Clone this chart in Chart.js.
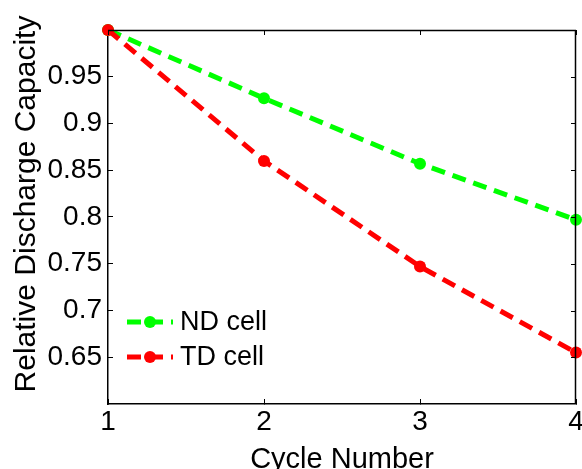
<!DOCTYPE html>
<html>
<head>
<meta charset="utf-8">
<script src="https://cdn.jsdelivr.net/npm/chart.js@4/dist/chart.umd.min.js"></script>
<style>
  html, body { margin: 0; padding: 0; background: #fff; }
  #wrap { width: 582px; height: 469px; position: relative; }
</style>
</head>
<body>
<div id="wrap"><canvas id="c" width="582" height="469"></canvas></div>
<script>
const cycles = ['1', '2', '3', '4'];
const ndCell = [1.0, 0.927, 0.857, 0.797];
const tdCell = [1.0, 0.860, 0.747, 0.655];
const yTickValues = [0.65, 0.7, 0.75, 0.8, 0.85, 0.9, 0.95];
const yTickLabels = ['0.65', '0.7', '0.75', '0.8', '0.85', '0.9', '0.95'];
const seriesNames = ['ND cell', 'TD cell'];
const yTitle = 'Relative Discharge Capacity';
const xTitle = 'Cycle Number';

const FONT = '"Liberation Sans", Arial, Helvetica, sans-serif';
const GREEN = '#00ff00';
const RED = '#ff0000';
const DASH = [14, 8];

const customDraw = {
  id: 'customDraw',
  afterDraw(chart) {
    const ctx = chart.ctx;
    const ca = chart.chartArea;
    const y = chart.scales.y;
    const x = chart.scales.x;
    ctx.save();
    ctx.strokeStyle = '#000';
    ctx.lineWidth = 1.5;
    ctx.beginPath();
    ctx.moveTo(ca.left, ca.top + 0.5);
    ctx.lineTo(ca.right, ca.top + 0.5);
    ctx.moveTo(ca.right - 0.5, ca.top);
    ctx.lineTo(ca.right - 0.5, ca.bottom);
    ctx.stroke();
    ctx.lineWidth = 1;
    ctx.beginPath();
    y.ticks.forEach(t => {
      const py = Math.round(y.getPixelForValue(t.value)) + 0.5;
      ctx.moveTo(ca.right, py);
      ctx.lineTo(ca.right - 5, py);
    });
    x.ticks.forEach((t, i) => {
      const px = Math.round(x.getPixelForTick(i)) + 0.5;
      ctx.moveTo(px, ca.top);
      ctx.lineTo(px, ca.top + 5);
    });
    ctx.stroke();

    ctx.fillStyle = '#000';
    ctx.font = '30px ' + FONT;
    ctx.textAlign = 'center';
    ctx.textBaseline = 'alphabetic';
    ctx.translate(35, 204);
    ctx.rotate(-Math.PI / 2);
    ctx.fillText(yTitle, 0, 0);
    ctx.setTransform(1, 0, 0, 1, 0, 0);

    const rows = [322, 357];
    chart.data.datasets.forEach((ds, i) => {
      const ly = rows[i];
      ctx.strokeStyle = ds.borderColor;
      ctx.lineWidth = ds.borderWidth;
      ctx.setLineDash(ds.borderDash);
      ctx.beginPath();
      ctx.moveTo(127, ly);
      ctx.lineTo(173, ly);
      ctx.stroke();
      ctx.setLineDash([]);
      ctx.fillStyle = ds.pointBackgroundColor;
      ctx.beginPath();
      ctx.arc(150, ly, ds.pointRadius, 0, Math.PI * 2);
      ctx.fill();
      ctx.fillStyle = '#000';
      ctx.font = '27px ' + FONT;
      ctx.textAlign = 'left';
      ctx.textBaseline = 'middle';
      ctx.fillText(ds.label, 180, ly + 1);
    });
    ctx.restore();
  }
};

new Chart(document.getElementById('c'), {
  type: 'line',
  data: {
    labels: cycles,
    datasets: [
      {
        label: seriesNames[0], data: ndCell, order: 1,
        borderColor: GREEN, backgroundColor: GREEN, borderWidth: 5, borderDash: DASH,
        pointRadius: 6, pointBackgroundColor: GREEN, pointBorderWidth: 0, pointHoverRadius: 6,
        tension: 0, fill: false, clip: false
      },
      {
        label: seriesNames[1], data: tdCell, order: 0,
        borderColor: RED, backgroundColor: RED, borderWidth: 5, borderDash: DASH,
        pointRadius: 6, pointBackgroundColor: RED, pointBorderWidth: 0, pointHoverRadius: 6,
        tension: 0, fill: false, clip: false
      }
    ]
  },
  options: {
    responsive: false,
    animation: false,
    devicePixelRatio: 1,
    events: [],
    layout: { padding: { top: 30, right: 5, left: 0, bottom: 0 } },
    plugins: { legend: { display: false }, tooltip: { enabled: false }, title: { display: false } },
    scales: {
      x: {
        type: 'category',
        offset: false,
        afterFit(s) { s.height = 65; s.paddingLeft = 0; s.paddingRight = 0; },
        border: { display: true, color: '#000', width: 1.5 },
        grid: { drawOnChartArea: false, drawTicks: true, tickLength: -5, color: '#000', offset: false },
        ticks: { color: '#000', font: { family: FONT, size: 28 }, padding: 6, maxRotation: 0, autoSkip: false },
        title: { display: true, text: xTitle, color: '#000', font: { family: FONT, size: 29 }, padding: { top: 0, bottom: -8 } }
      },
      y: {
        type: 'linear',
        min: 0.6, max: 1.0,
        afterFit(s) { s.width = 108; s.paddingTop = 0; s.paddingBottom = 0; },
        afterBuildTicks(s) { s.ticks = yTickValues.map(v => ({ value: v })); },
        border: { display: true, color: '#000', width: 1.5 },
        grid: { drawOnChartArea: false, drawTicks: true, tickLength: -5, color: '#000' },
        ticks: {
          color: '#000', font: { family: FONT, size: 28 }, padding: 11,
          callback(v) { const i = yTickValues.findIndex(t => Math.abs(t - v) < 1e-6); return i >= 0 ? yTickLabels[i] : ''; }
        }
      }
    }
  },
  plugins: [customDraw]
});
</script>
</body>
</html>
